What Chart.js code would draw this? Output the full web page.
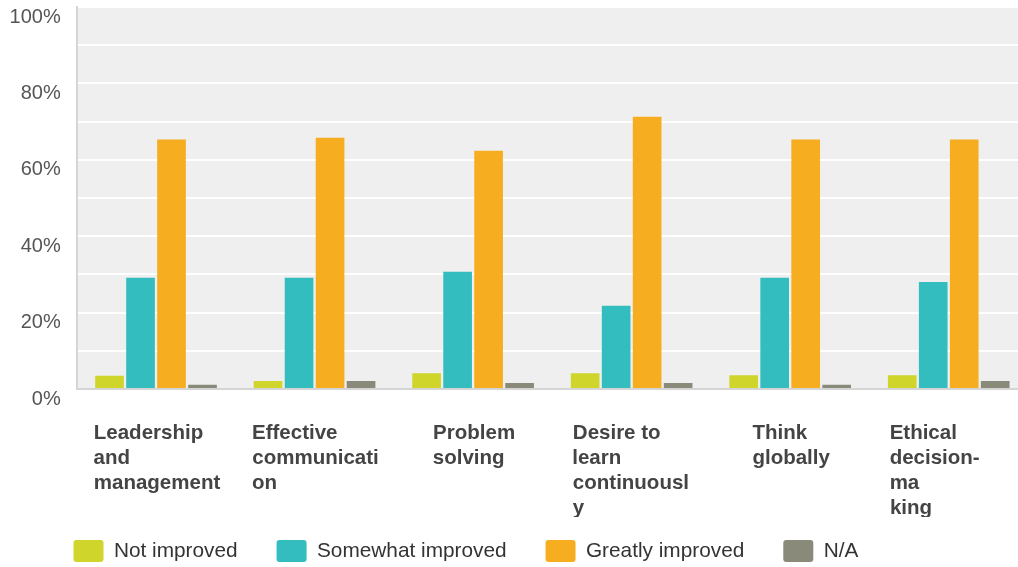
<!DOCTYPE html>
<html>
<head>
<meta charset="utf-8">
<script src="https://cdn.jsdelivr.net/npm/chart.js@4"></script>
<style>
html, body { margin: 0; padding: 0; background: #fff; overflow: hidden; }
/* the plot runs a little past the right edge of the picture */
#wrap { width: 1028px; height: 567px; position: relative; }
</style>
</head>
<body>
<div id="wrap"><canvas id="chart"></canvas></div>
<script>
// category labels, broken into lines as in the picture
const categories = [
	["Leadership", "and", "management"],
	["Effective", "communicati", "on"],
	["Problem", "solving"],
	["Desire to", "learn", "continuousl", "y"],
	["Think", "globally"],
	["Ethical", "decision-", "ma", "king"]
];

const seriesNames = ["Not improved", "Somewhat improved", "Greatly improved", "N/A"];

// percent of respondents
const notImproved = [3.5, 2.1, 4.1, 4.1, 3.6, 3.6];
const somewhatImproved = [29.1, 29.1, 30.7, 21.8, 29.1, 28.0];
const greatlyImproved = [65.3, 65.8, 62.4, 71.3, 65.3, 65.3];
const notApplicable = [1.1, 2.1, 1.6, 1.6, 1.1, 2.1];

const seriesColors = ["#cfd52a", "#34bdbf", "#f6ad1f", "#898a79"];

const fontFamily = "'Liberation Sans', Arial, sans-serif";
const tickFont = { family: fontFamily, size: 20.5, weight: "bold", lineHeight: 1.22 };

// labels are centred as a block but left aligned inside it, so pad each line with spaces.
// long (3+ line) labels fill the whole label box
const labelBoxWidth = 120;
const measureCtx = document.createElement("canvas").getContext("2d");
measureCtx.font = `bold ${tickFont.size}px ${fontFamily}`;

const textWidth = s => measureCtx.measureText(s).width;

function padLabel(lines)
{
	const widest = Math.max(...lines.map(textWidth));
	const target = lines.length > 2 ? Math.max(labelBoxWidth, widest) : widest;

	return lines.map(line =>
	{
		let s = line;
		while(textWidth(s + " ") <= target)
		{
			s += " ";
		}
		// fine tune with hair spaces
		while(Math.abs(textWidth(s + "\u200A") - target) < Math.abs(textWidth(s) - target))
		{
			s += "\u200A";
		}
		return s;
	});
}

const paddedLabels = categories.map(padLabel);

const plotBackground =
{
	id: "plotBackground",
	beforeDraw(chart)
	{
		const { ctx, chartArea } = chart;
		ctx.save();
		ctx.fillStyle = "#efefef";
		ctx.fillRect(chartArea.left, chartArea.top, chartArea.right - chartArea.left, chartArea.bottom - chartArea.top);
		ctx.restore();
	}
};

// the legend sits a bit right of the canvas edge and overlaps the label band
const legendShift =
{
	id: "legendShift",
	afterLayout(chart)
	{
		const legend = chart.legend;
		legend.left += 34.5;
		legend.right += 34.5;
		legend.top -= 16;
		legend.bottom -= 16;
	}
};

const seriesValues = [notImproved, somewhatImproved, greatlyImproved, notApplicable];

new Chart(document.getElementById("chart"),
{
	type: "bar",
	data:
	{
		labels: categories,
		datasets: seriesNames.map((name, i) => (
		{
			label: name,
			data: seriesValues[i],
			backgroundColor: seriesColors[i],
			borderWidth: 0,
			categoryPercentage: 0.782,
			barPercentage: 0.925
		}))
	},
	options:
	{
		responsive: true,
		maintainAspectRatio: false,
		animation: false,
		layout: { padding: { left: 0, top: 7, right: 0, bottom: -21 } },
		plugins:
		{
			tooltip: { enabled: false },
			legend:
			{
				position: "bottom",
				align: "start",
				labels:
				{
					boxWidth: 30,
					boxHeight: 22,
					padding: 39,
					color: "#333",
					useBorderRadius: true,
					borderRadius: 3,
					font: { family: fontFamily, size: 20.8 }
				}
			}
		},
		scales:
		{
			x:
			{
				grid: { display: false },
				border: { color: "#d5d5d5", width: 2 },
				ticks:
				{
					color: "#444",
					font: tickFont,
					padding: 23.5,
					labelOffset: 1,
					maxRotation: 0,
					autoSkip: false,
					callback: (value, index) => paddedLabels[index]
				},
				afterFit: scale =>
				{
					scale.height = 128;
					scale.paddingLeft = 0;
					scale.paddingRight = 0;
				}
			},
			y:
			{
				min: 0,
				max: 100,
				grid:
				{
					color: ctx => ctx.tick && ctx.tick.value === 0 ? "rgba(0,0,0,0)" : "#ffffff",
					lineWidth: 2,
					drawTicks: false
				},
				border: { color: "#d5d5d5", width: 2 },
				ticks:
				{
					stepSize: 10,
					padding: 16,
					labelOffset: 10,
					color: "#555",
					font: { family: fontFamily, size: 20 },
					callback: value => value % 20 === 0 ? value + "%" : ""
				},
				afterFit: scale =>
				{
					scale.width = 76.75;
					scale.paddingTop = 0;
					scale.paddingBottom = 0;
				}
			}
		}
	},
	plugins: [plotBackground, legendShift]
});
</script>
</body>
</html>
